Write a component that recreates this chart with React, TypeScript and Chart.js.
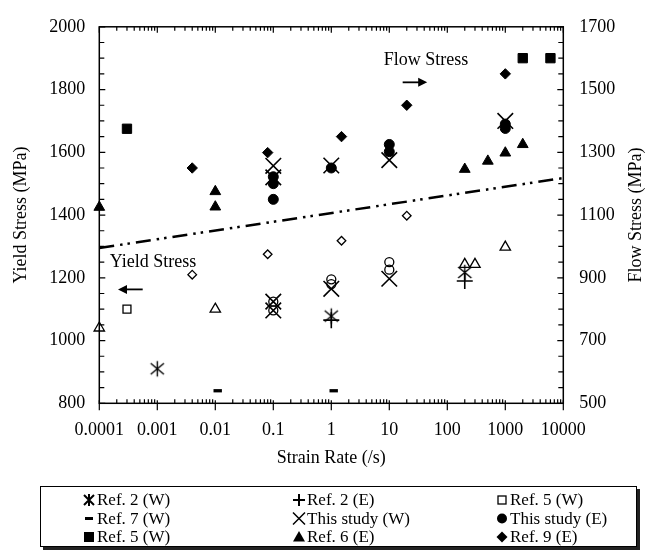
import React, { useEffect, useRef } from 'react';
import { Chart, registerables } from 'chart.js';

Chart.register(...registerables);

const FONT = '"Liberation Serif", "Times New Roman", serif';

// x axis (strain rate, /s)
const X_TICKS = [0.0001, 0.001, 0.01, 0.1, 1, 10, 100, 1000, 10000];
const X_TICK_LABELS = ['0.0001', '0.001', '0.01', '0.1', '1', '10', '100', '1000', '10000'];

// Yield stress (left axis, MPa)
const REF2W_YIELD_X = [0.001, 1, 200];
const REF2W_YIELD_Y = [910, 1078, 1217];
const REF2E_YIELD_X = [1, 200];
const REF2E_YIELD_Y = [1065, 1190];
const REF5W_YIELD_X = [0.0003];
const REF5W_YIELD_Y = [1100];
const REF7W_YIELD_X = [0.011, 1.1];
const REF7W_YIELD_Y = [840, 840];
const STUDYW_YIELD_X = [0.1, 0.1, 1, 10];
const STUDYW_YIELD_Y = [1124, 1096, 1165, 1197];
const STUDYE_YIELD_X = [0.1, 0.1, 1, 1, 10, 10];
const STUDYE_YIELD_Y = [1124, 1096, 1195, 1180, 1250, 1226];
const REF6E_YIELD_X = [0.0001, 0.01, 200, 300, 1000];
const REF6E_YIELD_Y = [1040, 1100, 1243, 1243, 1298];
const REF9E_YIELD_X = [0.004, 0.08, 1.5, 20];
const REF9E_YIELD_Y = [1210, 1275, 1318, 1398];

// Flow stress (right axis, MPa)
const STUDYW_FLOW_X = [0.1, 0.1, 1, 10, 1000];
const STUDYW_FLOW_Y = [1257, 1220, 1258, 1275, 1400];
const STUDYE_FLOW_X = [0.1, 0.1, 0.1, 1, 10, 10, 1000, 1000];
const STUDYE_FLOW_Y = [1222, 1200, 1150, 1250, 1325, 1302, 1390, 1376];
const REF5W_FLOW_X = [0.0003, 2000, 6000];
const REF5W_FLOW_Y = [1375, 1600, 1600];
const REF6E_FLOW_X = [0.0001, 0.01, 0.01, 200, 500, 1000, 2000];
const REF6E_FLOW_Y = [1125, 1175, 1126, 1246, 1272, 1298, 1325];
const REF9E_FLOW_X = [0.004, 0.08, 1.5, 20, 1000];
const REF9E_FLOW_Y = [1250, 1299, 1350, 1450, 1550];

// dash-dot trend line (left axis)
const TREND_X = [0.0001, 10000];
const TREND_Y = [1295, 1518];

// legend (row-major, 3 columns)
const LEGEND_LABELS = [
  'Ref. 2 (W)', 'Ref. 2 (E)', 'Ref. 5 (W)',
  'Ref. 7 (W)', 'This study (W)', 'This study (E)',
  'Ref. 5 (W)', 'Ref. 6 (E)', 'Ref. 9 (E)',
];
const LEGEND_MARKERS = [
  'asterisk', 'plus', 'hollowSquare',
  'dash', 'x', 'circle',
  'square', 'triangle', 'diamond',
];

function pts(xs: number[], ys: number[]) {
  return xs.map((x, i) => ({ x, y: ys[i] }));
}

function makeAsterisk(r: number, lw: number) {
  const s = Math.ceil(2 * r + 2 * lw) | 1;
  const c = document.createElement('canvas');
  c.width = s;
  c.height = s;
  const g = c.getContext('2d')!;
  const h = s / 2;
  g.strokeStyle = '#000';
  g.lineWidth = lw;
  g.beginPath();
  g.moveTo(h, h - r);
  g.lineTo(h, h + r);
  const dx = r * 0.85;
  const dy = r * 0.7;
  g.moveTo(h - dx, h - dy);
  g.lineTo(h + dx, h + dy);
  g.moveTo(h + dx, h - dy);
  g.lineTo(h - dx, h + dy);
  g.stroke();
  return c;
}

function drawMarker(ctx: CanvasRenderingContext2D, kind: string, x: number, y: number) {
  ctx.save();
  ctx.strokeStyle = '#000';
  ctx.fillStyle = '#000';
  ctx.lineWidth = 2;
  ctx.beginPath();
  switch (kind) {
    case 'asterisk':
      ctx.moveTo(x, y - 6); ctx.lineTo(x, y + 6);
      ctx.moveTo(x - 5, y - 5); ctx.lineTo(x + 5, y + 5);
      ctx.moveTo(x + 5, y - 5); ctx.lineTo(x - 5, y + 5);
      ctx.stroke();
      break;
    case 'plus':
      ctx.moveTo(x, y - 6); ctx.lineTo(x, y + 6);
      ctx.moveTo(x - 6, y); ctx.lineTo(x + 6, y);
      ctx.stroke();
      break;
    case 'hollowSquare':
      ctx.lineWidth = 1.3;
      ctx.strokeRect(x - 4, y - 4, 8, 8);
      break;
    case 'dash':
      ctx.fillRect(x - 4, y - 1.5, 8, 3);
      break;
    case 'x':
      ctx.lineWidth = 1.5;
      ctx.moveTo(x - 6, y - 6); ctx.lineTo(x + 6, y + 6);
      ctx.moveTo(x + 6, y - 6); ctx.lineTo(x - 6, y + 6);
      ctx.stroke();
      break;
    case 'circle':
      ctx.arc(x, y, 5, 0, Math.PI * 2);
      ctx.fill();
      break;
    case 'square':
      ctx.fillRect(x - 5, y - 5, 10, 10);
      break;
    case 'triangle':
      ctx.moveTo(x, y - 6); ctx.lineTo(x + 6, y + 4.5); ctx.lineTo(x - 6, y + 4.5);
      ctx.closePath(); ctx.fill();
      break;
    case 'diamond':
      ctx.moveTo(x, y - 5.5); ctx.lineTo(x + 5.5, y); ctx.lineTo(x, y + 5.5); ctx.lineTo(x - 5.5, y);
      ctx.closePath(); ctx.fill();
      break;
  }
  ctx.restore();
}

function drawArrow(ctx: CanvasRenderingContext2D, xTail: number, xHead: number, y: number) {
  const dir = xHead > xTail ? 1 : -1;
  ctx.save();
  ctx.strokeStyle = '#000';
  ctx.fillStyle = '#000';
  ctx.lineWidth = 1.8;
  ctx.beginPath();
  ctx.moveTo(xTail, y);
  ctx.lineTo(xHead - dir * 6, y);
  ctx.stroke();
  ctx.beginPath();
  ctx.moveTo(xHead, y);
  ctx.lineTo(xHead - dir * 9, y - 4.5);
  ctx.lineTo(xHead - dir * 9, y + 4.5);
  ctx.closePath();
  ctx.fill();
  ctx.restore();
}

const framePlugin = {
  id: 'frame',
  beforeDatasetsDraw(chart: any) {
    const { ctx, chartArea: a, scales } = chart;
    ctx.save();
    ctx.strokeStyle = '#000';
    ctx.lineWidth = 1.5;
    ctx.strokeRect(a.left, a.top, a.right - a.left, a.bottom - a.top);
    ctx.lineWidth = 1.2;
    ctx.beginPath();
    const xs = scales.x;
    for (let e = -4; e <= 4; e++) {
      for (let m = 1; m <= 9; m++) {
        const v = m * Math.pow(10, e);
        if (v > 10000 * 1.0001) break;
        const px = xs.getPixelForValue(v);
        if (m === 1) {
          ctx.moveTo(px, a.bottom - 3); ctx.lineTo(px, a.bottom + 7);
          ctx.moveTo(px, a.top); ctx.lineTo(px, a.top + 6);
        } else {
          ctx.moveTo(px, a.bottom - 4); ctx.lineTo(px, a.bottom);
          ctx.moveTo(px, a.top); ctx.lineTo(px, a.top + 4);
        }
      }
    }
    const ys = scales.y;
    const y2 = scales.y2;
    for (let v = 800; v <= 2000; v += 50) {
      const py = ys.getPixelForValue(v);
      ctx.moveTo(a.left, py); ctx.lineTo(a.left + (v % 200 === 0 ? 6 : 5), py);
    }
    for (let v = 500; v <= 1700; v += 50) {
      const py = y2.getPixelForValue(v);
      ctx.moveTo(a.right, py); ctx.lineTo(a.right - ((v - 500) % 200 === 0 ? 6 : 5), py);
    }
    ctx.stroke();
    ctx.restore();
  },
  afterDraw(chart: any) {
    const { ctx, scales, chartArea: a } = chart;
    const xs = scales.x;
    const ys = scales.y;
    const y2 = scales.y2;
    ctx.save();
    ctx.fillStyle = '#000';
    ctx.font = `18px ${FONT}`;
    ctx.textAlign = 'center';
    ctx.textBaseline = 'middle';
    ctx.fillText('Flow Stress', xs.getPixelForValue(43), y2.getPixelForValue(1592));
    drawArrow(ctx, xs.getPixelForValue(17), xs.getPixelForValue(45), y2.getPixelForValue(1523));
    ctx.fillText('Yield Stress', xs.getPixelForValue(0.00084), ys.getPixelForValue(1248));
    drawArrow(ctx, xs.getPixelForValue(0.00056), xs.getPixelForValue(0.00021), ys.getPixelForValue(1163));

    // right axis title, reading bottom-to-top
    ctx.save();
    ctx.translate(636, (a.top + a.bottom) / 2);
    ctx.rotate(-Math.PI / 2);
    ctx.fillText('Flow Stress (MPa)', 0, 0);
    ctx.restore();

    // legend box
    const L = 40, T = 486, R = 637, B = 547;
    ctx.fillStyle = '#222';
    ctx.fillRect(L + 3, B, R - L, 3);
    ctx.fillRect(R, T + 3, 3, B - T);
    ctx.fillStyle = '#fff';
    ctx.fillRect(L, T, R - L, B - T);
    ctx.strokeStyle = '#000';
    ctx.lineWidth = 1;
    ctx.strokeRect(L + 0.5, T + 0.5, R - L - 1, B - T - 1);
    const colX = [89, 299, 502];
    const rowY = [500, 518.5, 537];
    ctx.font = `17px ${FONT}`;
    ctx.textAlign = 'left';
    ctx.textBaseline = 'middle';
    LEGEND_LABELS.forEach((lab, i) => {
      const cx = colX[i % 3];
      const cy = rowY[Math.floor(i / 3)];
      drawMarker(ctx, LEGEND_MARKERS[i], cx, cy);
      ctx.fillStyle = '#000';
      ctx.fillText(lab, cx + 8, cy + 1);
    });
    ctx.restore();
  },
};

export default function App() {
  const ref = useRef<HTMLCanvasElement>(null);
  useEffect(() => {
    const canvas = ref.current!;
    const asterisk = makeAsterisk(7.8, 1.4);
    const filled = { backgroundColor: '#000', borderColor: '#000', borderWidth: 1 };
    const hollow = { backgroundColor: 'rgba(0,0,0,0)', borderColor: '#000', borderWidth: 1.3 };
    const common = { clip: false as any, pointHoverRadius: 0 };
    const datasets: any[] = [
      { ...common, label: 'This study (W)', data: pts(STUDYW_FLOW_X, STUDYW_FLOW_Y), yAxisID: 'y2', pointStyle: 'crossRot', pointRadius: 11, borderColor: '#000', borderWidth: 1.6 },
      { ...common, label: 'This study (W)', data: pts(STUDYW_YIELD_X, STUDYW_YIELD_Y), yAxisID: 'y', pointStyle: 'crossRot', pointRadius: 11, borderColor: '#000', borderWidth: 1.6 },
      { ...common, label: 'Ref. 2 (W)', data: pts(REF2W_YIELD_X, REF2W_YIELD_Y), yAxisID: 'y', pointStyle: asterisk, pointRadius: 8 },
      { ...common, label: 'Ref. 2 (E)', data: pts(REF2E_YIELD_X, REF2E_YIELD_Y), yAxisID: 'y', pointStyle: 'cross', pointRadius: 8, borderColor: '#000', borderWidth: 1.6 },
      { ...common, ...filled, label: 'This study (E)', data: pts(STUDYE_FLOW_X, STUDYE_FLOW_Y), yAxisID: 'y2', pointStyle: 'circle', pointRadius: 5 },
      { ...common, ...hollow, label: 'This study (E)', data: pts(STUDYE_YIELD_X, STUDYE_YIELD_Y), yAxisID: 'y', pointStyle: 'circle', pointRadius: 4.5 },
      { ...common, ...filled, label: 'Ref. 5 (W)', data: pts(REF5W_FLOW_X, REF5W_FLOW_Y), yAxisID: 'y2', pointStyle: 'rect', pointRadius: 6.6 },
      { ...common, ...hollow, label: 'Ref. 5 (W)', data: pts(REF5W_YIELD_X, REF5W_YIELD_Y), yAxisID: 'y', pointStyle: 'rect', pointRadius: 5.6 },
      { ...common, ...filled, label: 'Ref. 6 (E)', data: pts(REF6E_FLOW_X, REF6E_FLOW_Y), yAxisID: 'y2', pointStyle: 'triangle', pointRadius: 6.2 },
      { ...common, ...hollow, label: 'Ref. 6 (E)', data: pts(REF6E_YIELD_X, REF6E_YIELD_Y), yAxisID: 'y', pointStyle: 'triangle', pointRadius: 6 },
      { ...common, ...filled, label: 'Ref. 9 (E)', data: pts(REF9E_FLOW_X, REF9E_FLOW_Y), yAxisID: 'y2', pointStyle: 'rectRot', pointRadius: 5.2 },
      { ...common, ...hollow, label: 'Ref. 9 (E)', data: pts(REF9E_YIELD_X, REF9E_YIELD_Y), yAxisID: 'y', pointStyle: 'rectRot', pointRadius: 4.3 },
      { ...common, label: 'Ref. 7 (W)', data: pts(REF7W_YIELD_X, REF7W_YIELD_Y), yAxisID: 'y', pointStyle: 'line', pointRadius: 4.2, borderColor: '#000', borderWidth: 3.3 },
      { label: 'trend', data: pts(TREND_X, TREND_Y), yAxisID: 'y', showLine: true, pointRadius: 0, borderColor: '#000', borderWidth: 2.5, borderDash: [15, 6, 2.5, 5, 2.5, 6], fill: false },
    ];
    const titleFont = { family: FONT, size: 18 };
    const tickFont = { family: FONT, size: 18 };
    const chart = new Chart(canvas, {
      type: 'scatter',
      data: { datasets },
      plugins: [framePlugin],
      options: {
        animation: false,
        responsive: false,
        devicePixelRatio: 1,
        events: [],
        layout: { padding: { top: 15, left: 0, right: 0, bottom: 0 } },
        plugins: { legend: { display: false }, tooltip: { enabled: false } },
        scales: {
          x: {
            type: 'logarithmic',
            position: 'bottom',
            min: 0.0001,
            max: 10000,
            afterBuildTicks: (s: any) => { s.ticks = X_TICKS.map((v) => ({ value: v })); },
            afterFit: (s: any) => { s.height = 150.7; },
            grid: { display: false, drawTicks: false },
            border: { display: false },
            ticks: { autoSkip: false, maxRotation: 0, minRotation: 0, padding: 16, color: '#000', font: tickFont, callback: (_v: any, i: number) => X_TICK_LABELS[i] },
            title: { display: true, text: 'Strain Rate (/s)', color: '#000', font: titleFont, padding: { top: 0, bottom: 85 } },
          },
          y: {
            type: 'linear',
            position: 'left',
            min: 800,
            max: 2000,
            afterFit: (s: any) => { s.width = 99.3; },
            grid: { display: false, drawTicks: false },
            border: { display: false },
            ticks: { stepSize: 200, padding: 14, color: '#000', font: tickFont, callback: (v: any) => String(v) },
            title: { display: true, text: 'Yield Stress (MPa)', color: '#000', font: titleFont, padding: { top: 10, bottom: 0 } },
          },
          y2: {
            type: 'linear',
            position: 'right',
            min: 500,
            max: 1700,
            afterFit: (s: any) => { s.width = 82.7; },
            grid: { display: false, drawTicks: false },
            border: { display: false },
            ticks: { stepSize: 200, padding: 16, color: '#000', font: tickFont, callback: (v: any) => String(v) },
            title: { display: false },
          },
        },
      } as any,
    });
    return () => chart.destroy();
  }, []);
  return (
    <div style={{ position: 'fixed', left: 0, top: 0, width: 646, height: 554, background: '#fff' }}>
      <canvas ref={ref} width={646} height={554} style={{ display: 'block', width: 646, height: 554 }} />
    </div>
  );
}
